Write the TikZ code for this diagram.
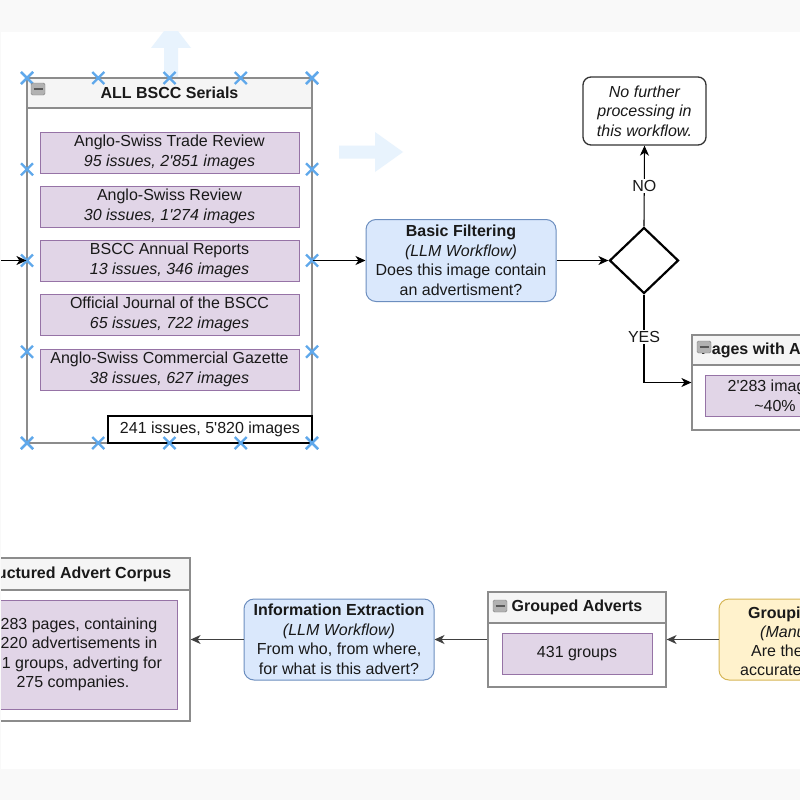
\documentclass[tikz,border=0pt]{standalone}
\usepackage{fontspec}
\setmainfont{Liberation Sans}
\usetikzlibrary{shapes.geometric,arrows.meta}
\definecolor{canvas}{HTML}{F9F9F9}
\definecolor{serialfill}{HTML}{E1D5E7}
\definecolor{serialline}{HTML}{9673A6}
\definecolor{llmfill}{HTML}{DAE8FC}
\definecolor{llmline}{HTML}{6C8EBF}
\definecolor{manfill}{HTML}{FFF2CC}
\definecolor{manline}{HTML}{D6B656}
\definecolor{headfill}{HTML}{F5F5F5}
\definecolor{poolline}{HTML}{8C8C8C}
\definecolor{handle}{RGB}{95,168,235}
\definecolor{hint}{RGB}{232,243,253}
\newcommand{\apo}{\textquotesingle}
\newcommand{\handleat}[2]{\draw[handlemark] (#1,#2) ++(-6,-6) -- ++(12,12) ++(-12,0) -- ++(12,-12);}

\begin{document}
\begin{tikzpicture}[x=1pt, y=-1pt,
  every node/.style={font=\fontsize{16}{19.5}\selectfont, text=black!90, inner sep=0pt},
  pool/.style={draw=poolline, line width=1.2pt, fill=white},
  poolhead/.style={draw=poolline, line width=1.2pt, fill=headfill, font=\fontsize{16}{19.5}\selectfont\bfseries},
  serial/.style={draw=serialline, line width=1pt, fill=serialfill, align=center, minimum width=259pt, minimum height=41pt},
  llm/.style={draw=llmline, line width=1pt, fill=llmfill, rounded corners=10pt, align=center, minimum width=190pt, minimum height=82pt},
  manual/.style={llm, draw=manline, fill=manfill},
  flow/.style={-{Stealth[length=10pt, width=9pt, inset=3pt]}, line width=1.1pt},
  handlemark/.style={draw=handle, line width=2.2pt},
  edgelabel/.style={fill=white, inner sep=1.5pt}]
% canvas
\useasboundingbox (0,0) rectangle (800,800);
\fill[canvas] (0,0) rectangle (800,800);
\fill[white] (1,32) rectangle (800,769);
\begin{scope}
\clip (1,32) rectangle (800,769);
% hover hints
\fill[hint] (164,78) -- (164,48) -- (151,48) -- (171,22) -- (191,48) -- (178,48) -- (178,78) -- cycle;
\fill[hint] (339,145.5) -- (375,145.5) -- (375,132) -- (403,152) -- (375,172) -- (375,158.5) -- (339,158.5) -- cycle;
% all serials
\node[pool, minimum width=285pt, minimum height=365pt] (serials) at (169.5,260.5) {};
\node[poolhead, minimum width=285pt, minimum height=30pt, anchor=north] (serialshead) at (serials.north) {ALL BSCC Serials};
\foreach \n/\yy/\ttl/\sub in {trade/152.5/Anglo-Swiss Trade Review/{95 issues, 2\apo851 images},
    review/206.5/Anglo-Swiss Review/{30 issues, 1\apo274 images},
    annual/260.5/BSCC Annual Reports/{13 issues, 346 images},
    journal/314.5/Official Journal of the BSCC/{65 issues, 722 images},
    gazette/369.5/Anglo-Swiss Commercial Gazette/{38 issues, 627 images}}
  \node[serial] (\n) at (169.5,\yy) {\ttl\\\textit{\sub}};
\node[draw=black, line width=1.2pt, fill=white, minimum width=204pt, minimum height=27pt] (total) at (210,429.5) {241 issues, 5\apo820 images};
\foreach \i in {0,...,4} {
  \handleat{27+71.25*\i}{78}
  \handleat{27+71.25*\i}{443}
  \handleat{27}{78+91.25*\i}
  \handleat{312}{78+91.25*\i}
}
% filtering
\node[llm] (filter) at (461,260.5) {\textbf{Basic Filtering}\\\textit{(LLM Workflow)}\\Does this image contain\\an advertisment?};
\node[diamond, draw=black, line width=2.2pt, fill=white, minimum width=69pt, minimum height=66pt] (decision) at (644,260.5) {};
\node[draw=black!80, line width=1.3pt, rounded corners=8pt, minimum width=123pt, minimum height=68pt, align=center, font=\fontsize{16}{19.5}\selectfont\itshape] (nofurther) at (644.5,111) {No further\\processing in\\this workflow.};
\node[pool, minimum width=166pt, minimum height=95pt] (pages) at (775,382.5) {};
\node[poolhead, minimum width=166pt, minimum height=30pt, anchor=north] (pageshead) at (pages.north) {Pages with Adverts};
\node[serial, minimum width=140pt] (pagecount) at (775,396) {2\apo283 images\\\textasciitilde40\%};
% bottom row
\node[pool, minimum width=234pt, minimum height=163pt] (corpus) at (73,639.5) {};
\node[poolhead, minimum width=234pt, minimum height=32pt, anchor=north] (corpushead) at (corpus.north) {Structured Advert Corpus};
\node[serial, minimum width=208pt, minimum height=109pt] (corpustext) at (73,654.5) {2\apo283 pages, containing\\\phantom{0\apo}220 advertisements in\\431 groups, adverting for\\275 companies.};
\node[llm, minimum height=81pt] (extract) at (339,639.5) {\textbf{Information Extraction}\\\textit{(LLM Workflow)}\\From who, from where,\\for what is this advert?};
\node[pool, minimum width=178pt, minimum height=95pt] (grouped) at (577,639.5) {};
\node[poolhead, minimum width=178pt, minimum height=31pt, anchor=north] (groupedhead) at (grouped.north) {Grouped Adverts};
\node[serial, minimum width=150pt] (groupcount) at (577,653.5) {431 groups};
\node[manual, minimum height=81pt] (grouping) at (814,639.5) {};
\foreach \n/\xx/\yy/\txt in {g1/748/618/\textbf{Grouping}, g2/760/637/\textit{(Manual}, g3/751/656/Are the, g4/740/675/accurate}
  \node[anchor=base west] (\n) at (\xx,\yy) {\txt};
% collapse icons
\foreach \xx/\yy in {31/83, 697/341, 493/600} {
  \draw[draw=black!50, fill=black!30, rounded corners=1.5pt] (\xx,\yy) rectangle ++(14,12);
  \draw[black!65, line width=1.6pt] (\xx+2.5,\yy+6) -- ++(9,0);
}
% connectors
\coordinate (feed) at (1,260.5);
\draw[flow] (feed) -- (serials.west);
\draw[flow] (serials.east) -- (filter.west);
\draw[flow] (filter.east) -- (decision.west);
\draw[flow] (decision.north) -- node[edgelabel] {NO} (nofurther.south);
\draw[flow] (decision.south) |- node[edgelabel, pos=0.24] {YES} (pages.west);
\draw[flow, black!75] (grouping.west) -- (grouped.east);
\draw[flow, black!75] (grouped.west) -- (extract.east);
\draw[flow, black!75] (extract.west) -- (corpus.east);
\end{scope}
\end{tikzpicture}
\end{document}
